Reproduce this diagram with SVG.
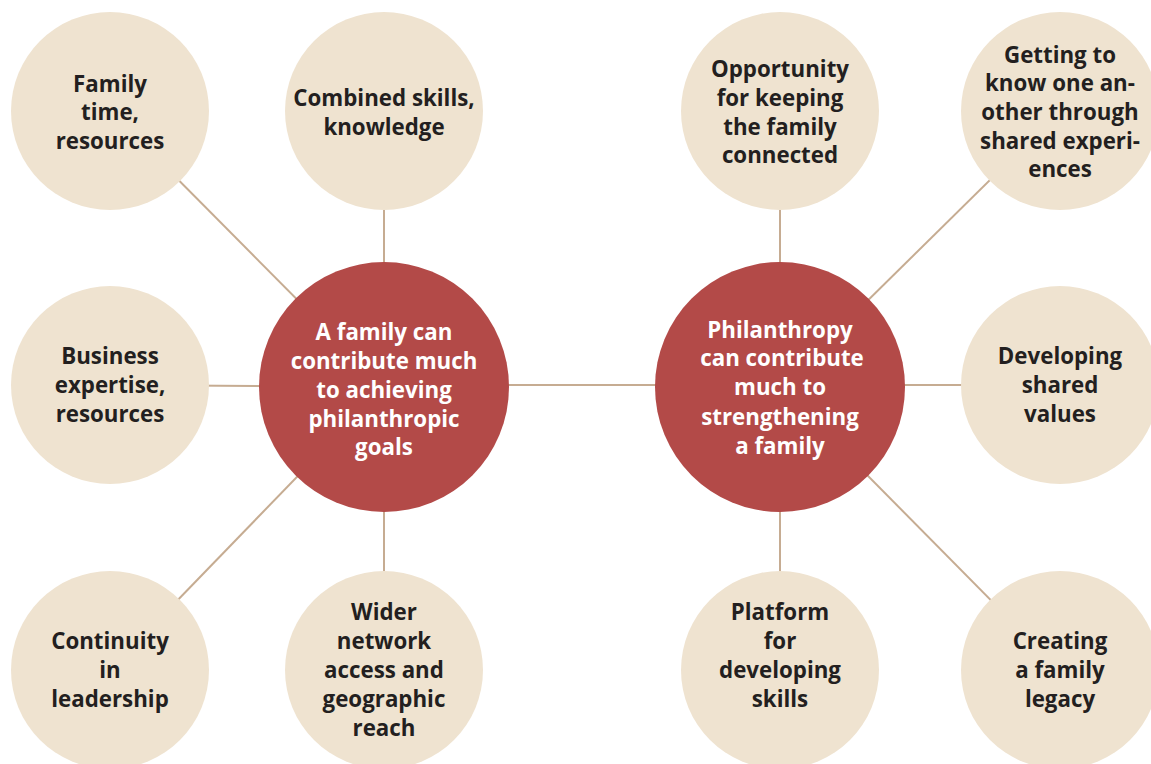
<svg xmlns="http://www.w3.org/2000/svg" width="1151" height="764" viewBox="0 0 1151 764">
<style>
.outer{fill:#EFE3D0}
.hub{fill:#B34A48}
.conn line{stroke:#C6AC92;stroke-width:2}
text{font-family:"Open Sans","Liberation Sans",sans-serif;font-weight:700;font-size:22.3px;text-anchor:middle}
.dark{fill:#231F20}
.light{fill:#FFFFFF}
</style>
<rect width="1151" height="764" fill="#FFFFFF"/>
<g id="connectors" class="conn">
<line x1="384" y1="387" x2="110" y2="111"/>
<line x1="384" y1="387" x2="384" y2="111"/>
<line x1="384" y1="387" x2="110" y2="385"/>
<line x1="384" y1="387" x2="110" y2="670"/>
<line x1="384" y1="387" x2="384" y2="670"/>
<line x1="384" y1="385" x2="780" y2="385"/>
<line x1="780" y1="387" x2="780" y2="111"/>
<line x1="780" y1="387" x2="1060" y2="111"/>
<line x1="780" y1="385" x2="1060" y2="385"/>
<line x1="780" y1="387" x2="780" y2="670"/>
<line x1="780" y1="387" x2="1060" y2="670"/>
</g>
<g id="family-time">
<circle class="outer" cx="110" cy="111" r="99"/>
<text class="dark"><tspan x="110" y="92">Family</tspan><tspan x="110" y="120">time,</tspan><tspan x="110" y="149">resources</tspan></text>
</g>
<g id="combined-skills">
<circle class="outer" cx="384" cy="111" r="99"/>
<text class="dark"><tspan x="384" y="106">Combined skills,</tspan><tspan x="384" y="135">knowledge</tspan></text>
</g>
<g id="business">
<circle class="outer" cx="110" cy="385" r="99"/>
<text class="dark"><tspan x="110" y="364">Business</tspan><tspan x="110" y="393">expertise,</tspan><tspan x="110" y="422">resources</tspan></text>
</g>
<g id="continuity">
<circle class="outer" cx="110" cy="670" r="99"/>
<text class="dark"><tspan x="110" y="649">Continuity</tspan><tspan x="110" y="678">in</tspan><tspan x="110" y="707">leadership</tspan></text>
</g>
<g id="wider-network">
<circle class="outer" cx="384" cy="670" r="99"/>
<text class="dark"><tspan x="384" y="620">Wider</tspan><tspan x="384" y="649">network</tspan><tspan x="384" y="678">access and</tspan><tspan x="384" y="707">geographic</tspan><tspan x="384" y="736">reach</tspan></text>
</g>
<g id="family-hub">
<circle class="hub" cx="384" cy="387" r="125"/>
<text class="light"><tspan x="384" y="340">A family can</tspan><tspan x="384" y="369">contribute much</tspan><tspan x="384" y="398">to achieving</tspan><tspan x="384" y="427">philanthropic</tspan><tspan x="384" y="455">goals</tspan></text>
</g>
<g id="philanthropy-hub">
<circle class="hub" cx="780" cy="387" r="125"/>
<text class="light"><tspan x="780" y="338">Philanthropy</tspan><tspan x="782" y="366">can contribute</tspan><tspan x="780" y="395">much to</tspan><tspan x="780" y="425">strengthening</tspan><tspan x="780" y="454">a family</tspan></text>
</g>
<g id="opportunity">
<circle class="outer" cx="780" cy="111" r="99"/>
<text class="dark"><tspan x="780" y="77">Opportunity</tspan><tspan x="780" y="106">for keeping</tspan><tspan x="780" y="135">the family</tspan><tspan x="780" y="163">connected</tspan></text>
</g>
<g id="getting-to-know">
<circle class="outer" cx="1060" cy="111" r="99"/>
<text class="dark"><tspan x="1060" y="63">Getting to</tspan><tspan x="1060" y="91">know one an-</tspan><tspan x="1060" y="120">other through</tspan><tspan x="1060" y="149">shared experi-</tspan><tspan x="1060" y="177">ences</tspan></text>
</g>
<g id="shared-values">
<circle class="outer" cx="1060" cy="385" r="99"/>
<text class="dark"><tspan x="1060" y="364">Developing</tspan><tspan x="1060" y="393">shared</tspan><tspan x="1060" y="422">values</tspan></text>
</g>
<g id="platform">
<circle class="outer" cx="780" cy="670" r="99"/>
<text class="dark"><tspan x="780" y="620">Platform</tspan><tspan x="780" y="649">for</tspan><tspan x="780" y="678">developing</tspan><tspan x="780" y="707">skills</tspan></text>
</g>
<g id="legacy">
<circle class="outer" cx="1060" cy="670" r="99"/>
<text class="dark"><tspan x="1060" y="649">Creating</tspan><tspan x="1060" y="678">a family</tspan><tspan x="1060" y="707">legacy</tspan></text>
</g>
</svg>
